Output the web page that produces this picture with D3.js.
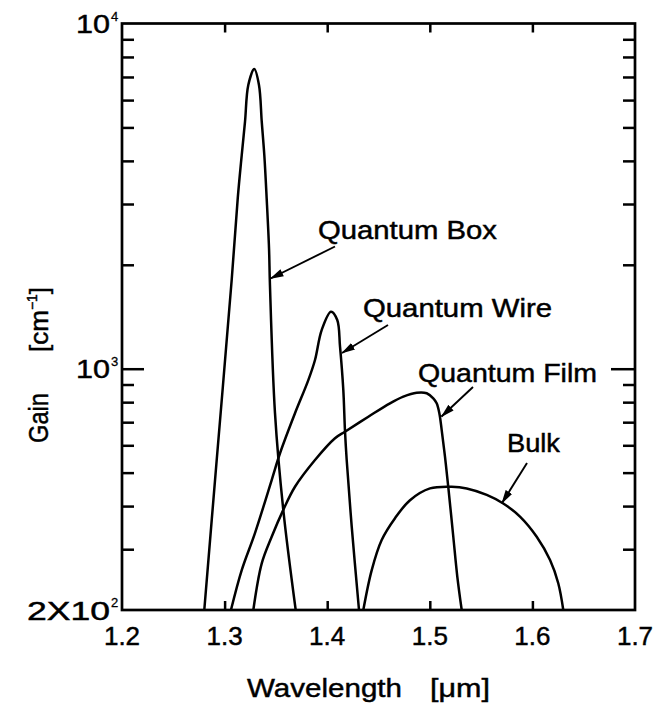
<!DOCTYPE html>
<html>
<head>
<meta charset="utf-8">
<script src="https://cdn.jsdelivr.net/npm/d3@7"></script>
<style>
  html, body { margin: 0; padding: 0; background: #fff; }
  svg { display: block; }
  text { font-family: "Liberation Sans", Arial, Helvetica, sans-serif; fill: #000; stroke: #000; stroke-width: 0.45px; }
</style>
</head>
<body>
<svg id="chart" width="669" height="706"></svg>
<script>
// Gain spectra [cm^-1] versus wavelength [um] for bulk, film, wire and box structures
const quantumBox = [
  [1.2802, 200], [1.2923, 544], [1.3069, 1807], [1.3128, 3116], [1.3167, 4159],
  [1.3199, 5194], [1.3231, 6637], [1.3289, 7380], [1.3335, 6637], [1.3362, 5194],
  [1.3387, 4159], [1.3410, 3116], [1.3433, 2233], [1.3442, 1748], [1.3491, 745],
  [1.3572, 390], [1.3693, 200]
];
const quantumWire = [
  [1.3062, 200], [1.3167, 261], [1.3296, 334], [1.3459, 476], [1.3540, 569],
  [1.3686, 743], [1.3816, 927], [1.3881, 1060], [1.3946, 1294], [1.4037, 1463],
  [1.4098, 1384], [1.4125, 1158], [1.4157, 868], [1.4173, 664], [1.4190, 544],
  [1.4239, 349], [1.4310, 200]
];
const quantumFilm = [
  [1.3280, 200], [1.3362, 273], [1.3459, 326], [1.3572, 390], [1.3686, 455],
  [1.3881, 544], [1.4076, 629], [1.4173, 657], [1.4401, 726], [1.4612, 794],
  [1.4742, 830], [1.4872, 852], [1.4970, 849], [1.5034, 821], [1.5067, 794],
  [1.5093, 743], [1.5116, 664], [1.5148, 556], [1.5180, 455], [1.5229, 326],
  [1.5268, 250], [1.5311, 200]
];
const bulk = [
  [1.4352, 200], [1.4434, 261], [1.4531, 319], [1.4661, 369], [1.4807, 416],
  [1.5002, 450], [1.5213, 455], [1.5360, 450], [1.5555, 431], [1.5716, 407],
  [1.5879, 373], [1.6042, 326], [1.6172, 279], [1.6252, 239], [1.6301, 200]
];

const xTickValues = [1.2, 1.3, 1.4, 1.5, 1.6, 1.7];
const yMinorTicks = [300, 400, 500, 600, 700, 800, 900, 2000, 3000, 4000, 5000, 6000, 7000, 8000, 9000];
const yMajorTicks = [1000];
const yLabelValues = [200, 1000, 10000];
const yLabelMantissa = ["2X10", "10", "10"];
const yLabelExponent = ["2", "3", "4"];

const svg = d3.select("#chart");
const plotLeft = 122, plotRight = 635, plotTop = 23.5, plotBottom = 610;

const x = d3.scaleLinear().domain([1.2, 1.7]).range([plotLeft, plotRight]);
const y = d3.scaleLog().domain([200, 10000]).range([plotBottom, plotTop]);

// Inward ticks on all four sides
const axisG = svg.append("g");
function styleAxis(g) {
  g.select(".domain").remove();
  g.selectAll(".tick line").attr("stroke", "#000").attr("stroke-width", 2.5);
  g.selectAll(".tick text").remove();
}
axisG.append("g").attr("transform", `translate(0,${plotBottom})`)
  .call(d3.axisBottom(x).tickValues(xTickValues.slice(1, -1)).tickSize(-9)).call(styleAxis);
axisG.append("g").attr("transform", `translate(0,${plotTop})`)
  .call(d3.axisTop(x).tickValues(xTickValues.slice(1, -1)).tickSize(-9)).call(styleAxis);
axisG.append("g").attr("transform", `translate(${plotLeft},0)`)
  .call(d3.axisLeft(y).tickValues(yMinorTicks).tickSize(-12)).call(styleAxis);
axisG.append("g").attr("transform", `translate(${plotLeft},0)`)
  .call(d3.axisLeft(y).tickValues(yMajorTicks).tickSize(-22)).call(styleAxis);
axisG.append("g").attr("transform", `translate(${plotRight},0)`)
  .call(d3.axisRight(y).tickValues(yMinorTicks).tickSize(-12)).call(styleAxis);
axisG.append("g").attr("transform", `translate(${plotRight},0)`)
  .call(d3.axisRight(y).tickValues(yMajorTicks).tickSize(-24)).call(styleAxis);

// Frame
svg.append("rect")
  .attr("x", plotLeft).attr("y", plotTop)
  .attr("width", plotRight - plotLeft).attr("height", plotBottom - plotTop)
  .attr("fill", "none").attr("stroke", "#000").attr("stroke-width", 2.7);

// X tick labels
svg.append("g").selectAll("text").data(xTickValues).join("text")
  .attr("x", d => x(d)).attr("y", 645)
  .attr("text-anchor", "middle")
  .attr("font-size", 26)
  .text(d => d.toFixed(1));

// Y tick labels with superscript exponents
const yl = svg.append("g").selectAll("g").data(yLabelValues).join("g");
yl.append("text")
  .attr("x", 110).attr("y", d => y(d) + 9.5)
  .attr("text-anchor", "end")
  .attr("font-size", 26)
  .attr("textLength", (d, i) => i === 0 ? 83 : 34)
  .attr("lengthAdjust", "spacingAndGlyphs")
  .text((d, i) => yLabelMantissa[i]);
yl.append("text")
  .attr("x", 111).attr("y", d => y(d) - 3)
  .attr("font-size", 13)
  .style("stroke-width", "0.3px")
  .text((d, i) => yLabelExponent[i]);

// Axis titles
svg.append("text").attr("x", 247).attr("y", 697).attr("font-size", 26)
  .attr("textLength", 155).attr("lengthAdjust", "spacingAndGlyphs").text("Wavelength");
svg.append("text").attr("x", 430).attr("y", 697).attr("font-size", 26)
  .attr("textLength", 60).attr("lengthAdjust", "spacingAndGlyphs").text("[μm]");

const yt = svg.append("g").attr("transform", "translate(48,0) rotate(-90)");
yt.append("text").attr("x", -443).attr("y", 0).attr("font-size", 27)
  .attr("textLength", 50).attr("lengthAdjust", "spacingAndGlyphs").text("Gain");
const unit = yt.append("text").attr("x", -352).attr("y", 0).attr("font-size", 26);
unit.append("tspan").text("[cm");
unit.append("tspan").attr("font-size", 14).attr("dy", -11).text("−1");
unit.append("tspan").attr("dy", 11).text("]");

// Curves
const line = d3.line()
  .x(d => x(d[0]))
  .y(d => y(d[1]))
  .curve(d3.curveCatmullRom.alpha(0.5));

svg.append("g").selectAll("path")
  .data([quantumBox, quantumWire, quantumFilm, bulk])
  .join("path")
  .attr("d", line)
  .attr("fill", "none")
  .attr("stroke", "#000")
  .attr("stroke-width", 2.5)
  .attr("stroke-linejoin", "round");

// Annotations with arrows
svg.append("defs").append("marker")
  .attr("id", "arrow")
  .attr("markerUnits", "userSpaceOnUse")
  .attr("viewBox", "0 -5 14 10")
  .attr("refX", 13).attr("refY", 0)
  .attr("markerWidth", 14).attr("markerHeight", 10)
  .attr("orient", "auto")
  .append("path").attr("d", "M0,-3.8L14,0L0,3.8Z").attr("fill", "#000");

const labels = [
  { text: "Quantum Box",  tx: 318, ty: 239, w: 179, x1: 335, y1: 246.5, x2: 270.5, y2: 278.5 },
  { text: "Quantum Wire", tx: 363, ty: 317, w: 189, x1: 388, y1: 325,   x2: 342,   y2: 353 },
  { text: "Quantum Film", tx: 418, ty: 382, w: 179, x1: 473, y1: 387,   x2: 441.5, y2: 416.5 },
  { text: "Bulk",         tx: 507, ty: 452, w: 53,  x1: 527, y1: 463,   x2: 502,   y2: 503 }
];
const ann = svg.append("g").selectAll("g").data(labels).join("g");
ann.append("text")
  .attr("x", d => d.tx).attr("y", d => d.ty)
  .attr("font-size", 25)
  .attr("textLength", d => d.w).attr("lengthAdjust", "spacingAndGlyphs")
  .text(d => d.text);
ann.append("line")
  .attr("x1", d => d.x1).attr("y1", d => d.y1)
  .attr("x2", d => d.x2).attr("y2", d => d.y2)
  .attr("stroke", "#000").attr("stroke-width", 1.9)
  .attr("marker-end", "url(#arrow)");
</script>
</body>
</html>
